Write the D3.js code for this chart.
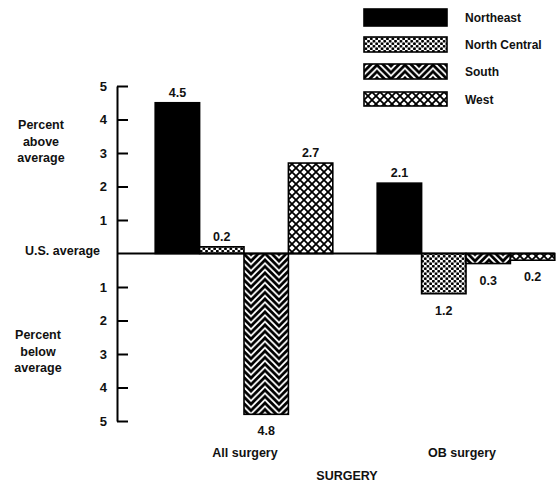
<!DOCTYPE html>
<html>
<head>
<meta charset="utf-8">
<script src="https://cdn.jsdelivr.net/npm/d3@7"></script>
<style>
  body { margin: 0; background: #fff; }
  svg { display: block; }
  text { font-family: "Liberation Sans", Arial, sans-serif; font-weight: bold; fill: #111; }
</style>
</head>
<body>
<svg width="559" height="483"></svg>
<script>
// data
const groups = ["All surgery", "OB surgery"];
const regions = ["Northeast", "North Central", "South", "West"];
const allSurgery = [4.5, 0.2, -4.8, 2.7];
const obSurgery = [2.1, -1.2, -0.3, -0.2];
const tickValues = [-5, -4, -3, -2, -1, 1, 2, 3, 4, 5];

const seriesByGroup = { "All surgery": allSurgery, "OB surgery": obSurgery };
const fills = {
    "Northeast": "#000",
    "North Central": "url(#dots)",
    "South": "url(#zigzag)",
    "West": "url(#cross)"
};

const svg = d3.select("svg");
const axisX = 117;

// ---- patterns ----
const defs = svg.append("defs");

const dots = defs.append("pattern")
    .attr("id", "dots").attr("patternUnits", "userSpaceOnUse")
    .attr("width", 5.4).attr("height", 5);
dots.append("rect").attr("width", 5.4).attr("height", 5).attr("fill", "#fff");
[[1.35, 1.25], [4.05, 3.75]].forEach(([cx, cy]) =>
    dots.append("circle").attr("cx", cx).attr("cy", cy).attr("r", 1.45).attr("fill", "#000"));

const zz = defs.append("pattern")
    .attr("id", "zigzag").attr("patternUnits", "userSpaceOnUse")
    .attr("x", 251).attr("width", 28).attr("height", 6.5);
zz.append("rect").attr("width", 28).attr("height", 6.5).attr("fill", "#fff");
for (let k = -3; k <= 3; k++) {
    const yy = k * 6.5;
    zz.append("path")
        .attr("d", `M-1,${yy + 15} L14,${yy} L29,${yy + 15}`)
        .attr("fill", "none").attr("stroke", "#000").attr("stroke-width", 2.8);
}

const cross = defs.append("pattern")
    .attr("id", "cross").attr("patternUnits", "userSpaceOnUse")
    .attr("width", 8).attr("height", 8);
cross.append("rect").attr("width", 8).attr("height", 8).attr("fill", "#fff");
cross.append("path")
    .attr("d", "M-1,-1 L9,9 M9,-1 L-1,9")
    .attr("stroke", "#000").attr("stroke-width", 1.8);

// ---- scales ----
const y = d3.scaleLinear().domain([-5, 5]).range([421, 86]);

const x0 = d3.scaleBand().domain(groups).range([133, 577])
    .paddingInner(0.2).paddingOuter(0.1);
const x1 = d3.scaleBand().domain(regions).range([0, x0.bandwidth()]);

// ---- axis ----
const yAxis = d3.axisLeft(y)
    .tickValues(tickValues)
    .tickSizeInner(-11)
    .tickSizeOuter(0)
    .tickPadding(10)
    .tickFormat(d => Math.abs(d));

const ag = svg.append("g")
    .attr("transform", `translate(${axisX},0)`)
    .call(yAxis);
ag.select(".domain").attr("stroke", "#000").attr("stroke-width", 2);
ag.selectAll(".tick line").attr("stroke", "#000").attr("stroke-width", 2);
ag.selectAll(".tick text")
    .attr("font-size", 13).attr("font-family", "Liberation Sans, Arial, sans-serif")
    .attr("font-weight", "bold").attr("fill", "#111");

// ---- bars ----
const bars = svg.append("g");
groups.forEach(g => {
    const vals = seriesByGroup[g];
    regions.forEach((r, i) => {
        const v = vals[i];
        const bx = x0(g) + x1(r);
        bars.append("rect")
            .attr("x", bx)
            .attr("y", y(Math.max(0, v)))
            .attr("width", x1.bandwidth())
            .attr("height", Math.abs(y(v) - y(0)))
            .attr("fill", fills[r])
            .attr("stroke", "#000").attr("stroke-width", 1.6);
        bars.append("text")
            .attr("x", bx + x1.bandwidth() / 2)
            .attr("y", v >= 0 ? y(v) - 6 : y(v) + 21)
            .attr("text-anchor", "middle")
            .attr("font-size", 12.5)
            .text(Math.abs(v).toFixed(1));
    });
});

// zero line
svg.append("line")
    .attr("x1", axisX).attr("x2", x0.range()[1] - x0.step() * 0.1)
    .attr("y1", y(0)).attr("y2", y(0))
    .attr("stroke", "#000").attr("stroke-width", 2);

// ---- labels ----
svg.append("text").attr("x", 25).attr("y", y(0) + 1).attr("font-size", 12.5).text("U.S. average");

function block(lines, cx, cy) {
    const t = svg.append("text").attr("text-anchor", "middle").attr("font-size", 12.5);
    lines.forEach((l, i) => t.append("tspan").attr("x", cx).attr("y", cy + i * 16.5).text(l));
}
block(["Percent", "above", "average"], 41, 129);
block(["Percent", "below", "average"], 38, 339);

groups.forEach((g, i) => {
    svg.append("text")
        .attr("x", x0(g) + x0.bandwidth() / 2 + (i === 0 ? 1 : -4))
        .attr("y", 457)
        .attr("text-anchor", "middle").attr("font-size", 12.5)
        .text(g);
});
svg.append("text").attr("x", 347).attr("y", 480).attr("text-anchor", "middle")
    .attr("font-size", 12.5).text("SURGERY");

// ---- legend ----
const legY = [9, 37, 64, 92];
const legH = [17, 15, 15, 14];
const leg = svg.append("g");
regions.forEach((r, i) => {
    leg.append("rect")
        .attr("x", 364).attr("y", legY[i])
        .attr("width", 83).attr("height", legH[i])
        .attr("fill", fills[r]).attr("stroke", "#000").attr("stroke-width", 1.6);
    leg.append("text")
        .attr("x", 465).attr("y", legY[i] + legH[i] / 2 + 4.5)
        .attr("font-size", 12).text(r);
});
</script>
</body>
</html>
